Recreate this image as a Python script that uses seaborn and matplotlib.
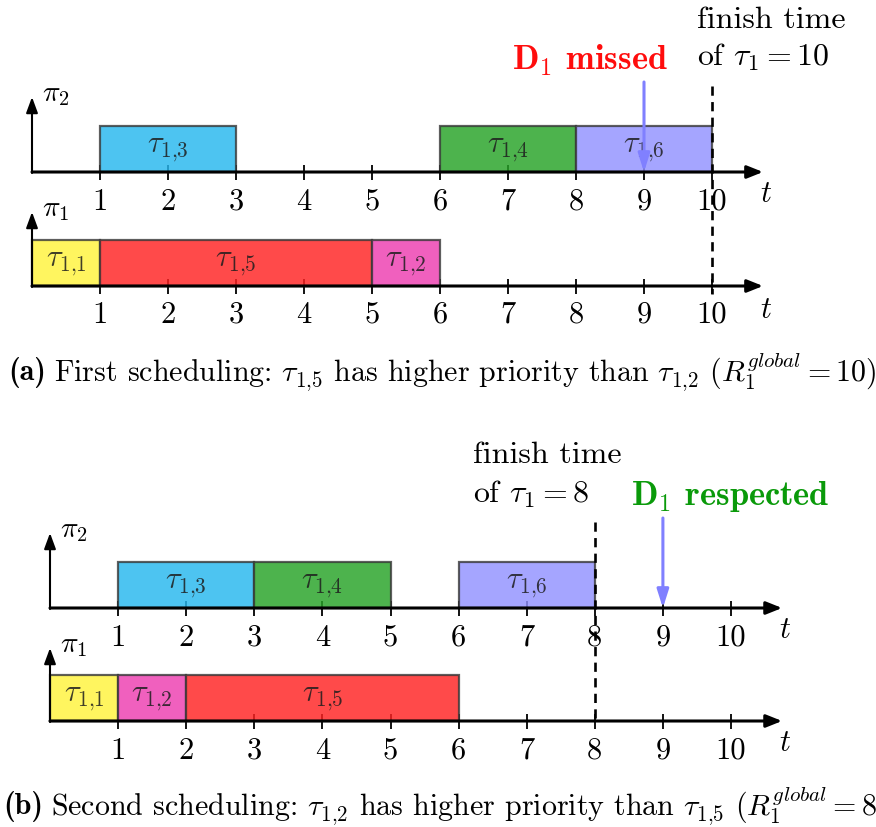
import matplotlib
matplotlib.use("Agg")
import matplotlib.pyplot as plt
import seaborn as sns
import pandas as pd

sns.set_theme(style="white")
plt.rcParams['font.family'] = ['cmr10']
plt.rcParams['mathtext.fontset'] = 'cm'
plt.rcParams['axes.formatter.use_mathtext'] = True
plt.rcParams['axes.unicode_minus'] = False

# ---------------- data ----------------
ticks = [1, 2, 3, 4, 5, 6, 7, 8, 9, 10]

a_p2_tasks = ["1,3", "1,4", "1,6"]
a_p2_start = [1, 6, 8]
a_p2_dur = [2, 2, 2]
a_p1_tasks = ["1,1", "1,5", "1,2"]
a_p1_start = [0, 1, 5]
a_p1_dur = [1, 4, 1]

b_p2_tasks = ["1,3", "1,4", "1,6"]
b_p2_start = [1, 3, 6]
b_p2_dur = [2, 2, 2]
b_p1_tasks = ["1,1", "1,2", "1,5"]
b_p1_start = [0, 1, 2]
b_p1_dur = [1, 1, 4]

finish_a = 10
finish_b = 8
deadline = 9

task_colors = {
    "1,1": (255, 245, 95),
    "1,2": (240, 96, 190),
    "1,3": (77, 196, 242),
    "1,4": (77, 179, 77),
    "1,5": (255, 74, 74),
    "1,6": (165, 165, 255),
}

caption_a_tag = "(a)"
caption_a = (r"First scheduling: $\tau_{1{,}5}$ has higher priority than "
             r"$\tau_{1{,}2}$ ($R_1^{global} = 10$)")
caption_b_tag = "(b)"
caption_b = (r"Second scheduling: $\tau_{1{,}2}$ has higher priority than "
             r"$\tau_{1{,}5}$ ($R_1^{global} = 8$)")

# ---------------- figure ----------------
W, H = 876, 827
fig = plt.figure(figsize=(W / 100, H / 100), dpi=100)
ALPHA = 0.82


def base_color(rgb):
    # colour that, drawn with ALPHA over white, gives the observed tint
    return tuple(max(0.0, 1 - (1 - c / 255) / ALPHA) for c in rgb)


def make_axes(origin_px, unit_px):
    ax = fig.add_axes([0, 0, 1, 1])
    ax.set_xlim(-origin_px / unit_px, (W - origin_px) / unit_px)
    ax.set_ylim(H, 0)
    ax.axis("off")
    ax.patch.set_alpha(0)
    return ax


def lane(ax, base, arrow_top, tasks, starts, durs, label, tick_lab_off=30, t_off=22):
    bar_h = 46
    df = pd.DataFrame({"task": tasks, "start": starts, "dur": durs})
    # ticks (under bars)
    ax.vlines(ticks, base - 7, base + 8, color="black", lw=1.3, zorder=1)
    for _, r in df.iterrows():
        ax.barh(base - bar_h / 2, r["dur"], left=r["start"], height=bar_h,
                color=base_color(task_colors[r["task"]]), alpha=ALPHA,
                edgecolor="#3a3a3a", linewidth=1.6, zorder=2)
        lab = r"$\tau_{%s}$" % r["task"].replace(",", "{,}")
        ax.text(r["start"] + r["dur"] / 2, base - bar_h / 2 + 1, lab,
                ha="center", va="center", fontsize=22, color="#1e1e1e", alpha=0.85, zorder=3)
    # horizontal axis arrow
    ax.annotate("", xy=(10.75, base), xytext=(0, base),
                arrowprops=dict(arrowstyle="-|>,head_length=0.95,head_width=0.38",
                                lw=2.2, color="black", shrinkA=0, shrinkB=0,
                                mutation_scale=10), zorder=4)
    # vertical axis arrow
    ax.annotate("", xy=(0, arrow_top), xytext=(0, base + 1),
                arrowprops=dict(arrowstyle="-|>,head_length=0.95,head_width=0.35",
                                lw=1.5, color="black", shrinkA=0, shrinkB=0,
                                mutation_scale=10), zorder=4)
    ax.text(0.15, arrow_top - 2, label, ha="left", va="center", fontsize=21, color="black")
    for t in ticks:
        ax.text(t, base + tick_lab_off, str(t), ha="center", va="center", fontsize=22,
                color="black")
    ax.text(10.8, base + t_off, r"$t$", ha="center", va="center", fontsize=22, color="black")


def blue_arrow(ax, x, y0, y1):
    ax.annotate("", xy=(x, y1), xytext=(x, y0),
                arrowprops=dict(arrowstyle="-|>,head_length=1.1,head_width=0.35",
                                lw=2.2, color="#8080ff", shrinkA=0, shrinkB=0,
                                mutation_scale=10), zorder=5)


# ---------------- (a) ----------------
axa = make_axes(32, 68)
lane(axa, 172, 97, a_p2_tasks, a_p2_start, a_p2_dur, r"$\pi_2$", 30, 22)
lane(axa, 286, 212, a_p1_tasks, a_p1_start, a_p1_dur, r"$\pi_1$", 29, 24)
axa.plot([finish_a, finish_a], [86, 294], color="black", lw=1.9,
         ls=(0, (3.5, 2.4)), zorder=6)
blue_arrow(axa, deadline, 82, 172)
axa.text(9.78, 20, "finish time", ha="left", va="center", fontsize=23, color="black")
axa.text(9.78, 57, r"of $\tau_1 = 10$", ha="left", va="center", fontsize=23, color="black")
axa.text(8.21, 60, r"$\mathbf{D_1}$ missed", ha="center", va="center", fontsize=24.8,
         color="#ff0d0d", family="cmb10")

# ---------------- (b) ----------------
axb = make_axes(50, 68.1)
lane(axb, 608, 533, b_p2_tasks, b_p2_start, b_p2_dur, r"$\pi_2$", 30, 22)
lane(axb, 721, 648, b_p1_tasks, b_p1_start, b_p1_dur, r"$\pi_1$", 30, 22)
axb.plot([finish_b, finish_b], [522, 724], color="black", lw=1.9,
         ls=(0, (3.5, 2.4)), zorder=6)
blue_arrow(axb, deadline, 518, 608)
axb.text(6.21, 455, "finish time", ha="left", va="center", fontsize=23, color="black")
axb.text(6.21, 494, r"of $\tau_1 = 8$", ha="left", va="center", fontsize=23, color="black")
axb.text(9.99, 497, r"$\mathbf{D_1}$ respected", ha="center", va="center", fontsize=24.8,
         color="#0a9a0a", family="cmb10")

# ---------------- captions ----------------
renderer = fig.canvas.get_renderer()


def caption(x_px, y_px, tag, body, size):
    t = fig.text(x_px / W, 1 - y_px / H, tag, ha="left", va="center", fontsize=size,
                 color="black", family="cmb10")
    bb = t.get_window_extent(renderer=renderer)
    fig.text((bb.x1 + 8) / W, 1 - y_px / H, body, ha="left", va="center", fontsize=size,
             color="black")


caption(8, 372, caption_a_tag, caption_a, 21.6)
caption(3, 806, caption_b_tag, caption_b, 21.6)

fig.savefig("out.png", dpi=100)
